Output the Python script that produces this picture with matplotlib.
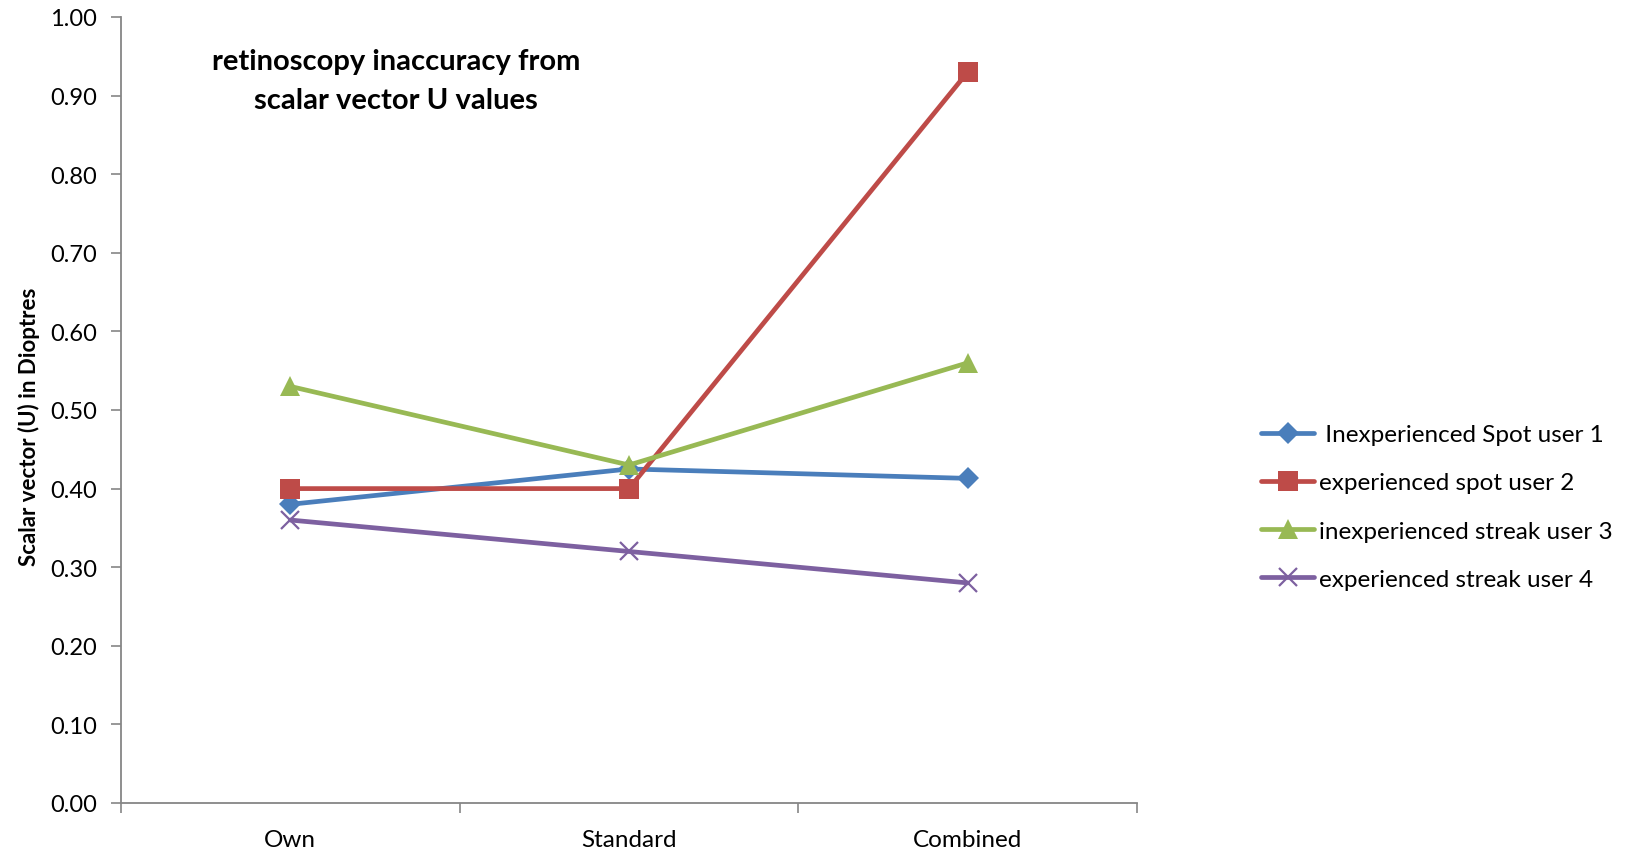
import matplotlib
matplotlib.use('Agg')
import matplotlib.pyplot as plt
from matplotlib.ticker import MultipleLocator, FixedLocator

plt.rcParams['font.family'] = ['Lato', 'DejaVu Sans']

categories = ['Own', 'Standard', 'Combined']
series_names = [' Inexperienced Spot user 1', 'experienced spot user 2',
                'inexperienced streak user 3', 'experienced streak user 4']
spot_user1 = [0.38, 0.425, 0.413]
spot_user2 = [0.40, 0.40, 0.93]
streak_user3 = [0.53, 0.43, 0.56]
streak_user4 = [0.36, 0.32, 0.28]

colors = ['#4A7EBB', '#BE4B48', '#98B954', '#7D60A0']
markers = ['D', 's', '^', 'x']
msizes = [11, 14, 14, 13]

fig = plt.figure(figsize=(16.37, 8.54), dpi=100)
ax = fig.add_axes([121/1637, 50/854, 1016/1637, 786/854])

x = range(len(categories))
for vals, name, c, m, ms in zip([spot_user1, spot_user2, streak_user3, streak_user4],
                                series_names, colors, markers, msizes):
    ax.plot(x, vals, color=c, lw=3.4, marker=m, ms=ms, mew=1.6 if m == 'x' else 0,
            mec=c, mfc=c, label=name, solid_capstyle='round')

ax.set_xlim(-0.5, 2.5)
ax.set_ylim(0, 1.0)
ax.yaxis.set_major_locator(MultipleLocator(0.1))
ax.yaxis.set_major_formatter(lambda v, p: f'{v:.2f}')
ax.set_xticks(list(x))
ax.set_xticklabels(categories)
ax.xaxis.set_minor_locator(FixedLocator([-0.5, 0.5, 1.5, 2.5]))
ax.tick_params(axis='x', which='major', length=0, pad=19, labelsize=17.5)
ax.tick_params(axis='x', which='minor', length=7, width=1.2, color='#868686')
ax.tick_params(axis='y', length=7, width=1.2, color='#868686', labelsize=17, pad=10)

for side in ['top', 'right']:
    ax.spines[side].set_visible(False)
for side in ['left', 'bottom']:
    ax.spines[side].set_color('#868686')
    ax.spines[side].set_linewidth(1.3)

ax.set_ylabel('Scalar vector (U) in Dioptres', fontsize=16, fontweight='bold')
ax.yaxis.set_label_coords(-0.080, 0.48)
ax.text(0.271, 0.96, 'retinoscopy inaccuracy from\nscalar vector U values',
        transform=ax.transAxes, ha='center', va='top', fontsize=21,
        fontweight='bold', linespacing=1.6)

fig.legend(loc='center left', bbox_to_anchor=(1239/1637, 1 - 508/854), frameon=False,
           fontsize=17.5, handlelength=2.2, handletextpad=0.2, labelspacing=1.12)

fig.savefig('out.png', dpi=100)
